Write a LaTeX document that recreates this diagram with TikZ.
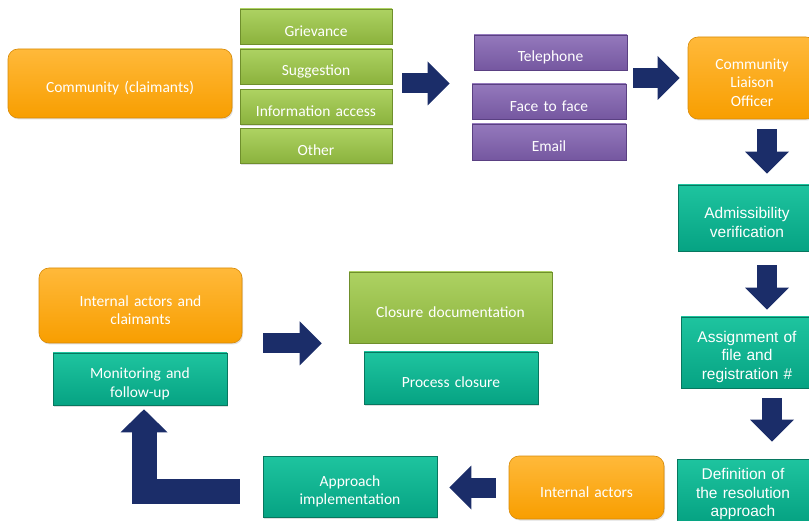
\documentclass[tikz,border=0pt]{standalone}
\usepackage{fontspec}
\setmainfont{Carlito}
\newfontfamily\arialfont{Liberation Sans}
\usetikzlibrary{arrows.meta,shadows}

\definecolor{orgtop}{HTML}{FFB93A}
\definecolor{orgbot}{HTML}{F89E00}
\definecolor{orgline}{HTML}{D88A06}
\definecolor{grntop}{HTML}{ADD262}
\definecolor{grnbot}{HTML}{8BB23D}
\definecolor{grnline}{HTML}{6F8F2C}
\definecolor{purtop}{HTML}{9479BC}
\definecolor{purbot}{HTML}{7557A0}
\definecolor{purline}{HTML}{5A4082}
\definecolor{teltop}{HTML}{1EC49F}
\definecolor{telbot}{HTML}{06A383}
\definecolor{telline}{HTML}{07775F}
\definecolor{navy}{HTML}{1B2D69}

\tikzset{
  base/.style={inner sep=0pt, align=center, text=white, line width=0.6pt,
    font=\fontsize{15.5}{18.5}\selectfont,
    execute at begin node={\rule{0pt}{20pt}},
    drop shadow={opacity=0.25, shadow xshift=1pt, shadow yshift=-1.5pt}},
  obox/.style={base, rounded corners=10pt, draw=orgline, top color=orgtop, bottom color=orgbot},
  gbox/.style={base, draw=grnline, top color=grntop, bottom color=grnbot},
  pbox/.style={base, draw=purline, top color=purtop, bottom color=purbot},
  tbox/.style={base, draw=telline, top color=teltop, bottom color=telbot},
  arial/.style={font=\arialfont\fontsize{15.5}{18.5}\selectfont,
    execute at begin node={\rule{0pt}{15pt}}},
  bigarrow/.style={draw=navy, line width=20pt, line join=miter,
    -{Triangle[width=44pt,length=22pt,line width=0pt]}},
  larrow/.style={bigarrow, line width=25pt, -{Triangle[width=47pt,length=23pt,line width=0pt]}}
}

\begin{document}
\begin{tikzpicture}[x=1pt, y=-1pt]
        \useasboundingbox (0,0) rectangle (809,521);
        \clip (0,0) rectangle (809,521);

        \node (comm) [obox, text width=224pt, minimum height=69pt] at (120,83.5) {Community (claimants)};
        \node (griev) [gbox, text width=152pt, minimum height=35pt] at (316,26.5) {Grievance};
        \node (sugg) [gbox, text width=152pt, minimum height=35pt] at (316,66.5) {Suggestion};
        \node (info) [gbox, text width=152pt, minimum height=35pt] at (316,107) {Information access};
        \node (other) [gbox, text width=152pt, minimum height=35pt] at (316,146) {Other};
        \node (tel) [pbox, text width=153pt, minimum height=35pt] at (550.5,52.5) {Telephone};
        \node (face) [pbox, text width=154pt, minimum height=35pt] at (549,101.5) {Face to face};
        \node (email) [pbox, text width=154pt, minimum height=36pt] at (549,142) {Email};
        \node (clo) [obox, text width=128pt, minimum height=82pt] at (752,78) {Community\\Liaison\\Officer};
        \node (admis) [tbox, arial, text width=138pt, minimum height=66pt] at (747,218) {Admissibility\\verification};
        \node (assign) [tbox, arial, text width=132pt, minimum height=71pt] at (747,352.5) {Assignment of\\file and\\registration \#};
        \node (defin) [tbox, arial, text width=132pt, minimum height=62pt] at (743,490) {Definition of\\the resolution\\approach};
        \node (intact) [obox, text width=155pt, minimum height=63pt] at (586.5,487.5) {Internal actors};
        \node (approach) [tbox, text width=174pt, minimum height=61pt] at (350,486.5) {Approach\\implementation};
        \node (intclaim) [obox, text width=203pt, minimum height=75pt] at (140.5,305.5) {Internal actors and\\claimants};
        \node (monitor) [tbox, text width=174pt, minimum height=52pt] at (140,379) {Monitoring and\\follow-up};
        \node (closdoc) [gbox, text width=203pt, minimum height=71pt] at (450.5,307.5) {Closure documentation};
        \node (closure) [tbox, text width=174pt, minimum height=52pt] at (451,378) {Process closure};

        \draw[bigarrow, shorten <=10pt, shorten >=22pt] (sugg.east |- comm.east) -- (face.west |- comm.east);
        \draw[bigarrow, shorten <=6pt, shorten >=8pt] (tel.east |- clo.west) -- (clo.west);
        \draw[bigarrow, shorten <=10pt, shorten >=11pt] ([xshift=15pt]clo.south) -- ([xshift=20pt]admis.north);
        \draw[bigarrow, shorten <=14pt, shorten >=7pt] ([xshift=20pt]admis.south) -- ([xshift=20pt]assign.north);
        \draw[bigarrow, shorten <=10pt, shorten >=17pt] ([xshift=25pt]assign.south) -- ([xshift=29pt]defin.north);
        \draw[bigarrow, shorten <=13pt, shorten >=12pt] (intact.west) -- (intact.west -| approach.east);
        \draw[larrow, shorten <=23pt, shorten >=4pt] ([yshift=-5pt]approach.west) -| ([xshift=4pt]monitor.south);
        \draw[bigarrow, shorten <=21pt, shorten >=27pt] (intclaim.south east) -- (intclaim.south east -| closdoc.west);
\end{tikzpicture}
\end{document}
